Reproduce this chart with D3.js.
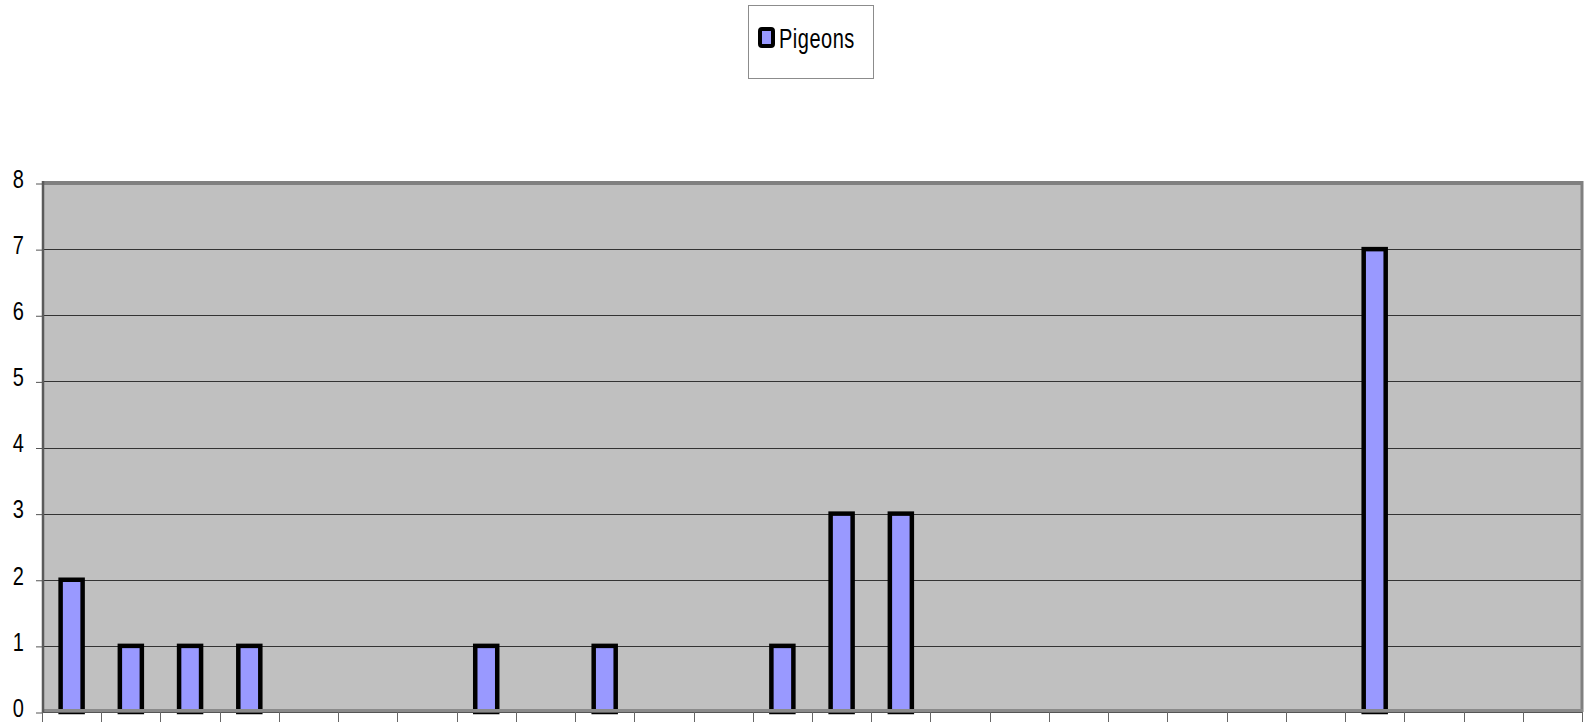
<!DOCTYPE html>
<html>
<head>
<meta charset="utf-8">
<script src="https://cdn.jsdelivr.net/npm/d3@7"></script>
<style>
  html, body { margin: 0; padding: 0; background: #ffffff; }
  svg { display: block; }
  text { font-family: "Liberation Sans", Arial, sans-serif; }
</style>
</head>
<body>
<svg id="chart" width="1590" height="722"></svg>
<script>
// ---- data ----
const categories = ["1","2","3","4","5","6","7","8","9","10","11","12","13",
                    "14","15","16","17","18","19","20","21","22","23","24","25","26"];
const pigeons = [2,1,1,1,0,0,0,1,0,1,0,0,1,3,3,0,0,0,0,0,0,0,7,0,0,0];
const seriesName = "Pigeons";
const yTicks = [0,1,2,3,4,5,6,7,8];

// ---- layout ----
const W = 1590, H = 722;
const plot = { left: 42, right: 1582, top: 183, bottom: 712 };

const svg = d3.select("#chart");

const x = d3.scaleBand()
  .domain(categories)
  .range([plot.left, plot.right])
  .paddingInner(0)
  .paddingOuter(0);

const y = d3.scaleLinear()
  .domain([0, 8])
  .range([plot.bottom, plot.top]);

// plot background
svg.append("rect")
  .attr("x", plot.left).attr("y", plot.top)
  .attr("width", plot.right - plot.left)
  .attr("height", plot.bottom - plot.top)
  .attr("fill", "#c0c0c0");

// horizontal gridlines
svg.append("g")
  .selectAll("line")
  .data(yTicks.filter(t => t > 0 && t < 8))
  .join("line")
  .attr("x1", plot.left).attr("x2", plot.right)
  .attr("y1", d => Math.round(y(d)) + 0.5)
  .attr("y2", d => Math.round(y(d)) + 0.5)
  .attr("stroke", "#333333")
  .attr("stroke-width", 1);

// bars
const barW = 22;
svg.append("g")
  .selectAll("rect")
  .data(categories.map((c, i) => ({ c, v: pigeons[i] })).filter(d => d.v > 0))
  .join("rect")
  .attr("x", d => x(d.c) + x.bandwidth() / 2 - barW / 2)
  .attr("y", d => y(d.v))
  .attr("width", barW)
  .attr("height", d => y(0) - y(d.v))
  .attr("fill", "#9999ff")
  .attr("stroke", "#000000")
  .attr("stroke-width", 4.5);

// plot frame
svg.append("line") // top
  .attr("x1", plot.left).attr("x2", plot.right + 1)
  .attr("y1", plot.top).attr("y2", plot.top)
  .attr("stroke", "#808080").attr("stroke-width", 4);
svg.append("line") // right
  .attr("x1", plot.right).attr("x2", plot.right)
  .attr("y1", plot.top - 2).attr("y2", plot.bottom)
  .attr("stroke", "#808080").attr("stroke-width", 3);
svg.append("line") // bottom (gray band)
  .attr("x1", plot.left).attr("x2", plot.right + 1)
  .attr("y1", plot.bottom - 1.5).attr("y2", plot.bottom - 1.5)
  .attr("stroke", "#8a8a8a").attr("stroke-width", 3);
svg.append("line") // bottom axis line
  .attr("x1", plot.left).attr("x2", plot.right + 1)
  .attr("y1", plot.bottom + 0.5).attr("y2", plot.bottom + 0.5)
  .attr("stroke", "#555555").attr("stroke-width", 1);
svg.append("line") // left axis line
  .attr("x1", plot.left + 1).attr("x2", plot.left + 1)
  .attr("y1", plot.top - 2).attr("y2", plot.bottom + 1)
  .attr("stroke", "#5a5a5a").attr("stroke-width", 2.5);

// y-axis ticks + labels (via d3 axis)
const yAxis = d3.axisLeft(y)
  .tickValues(yTicks)
  .tickSize(6)
  .tickFormat(d3.format("d"));
const gy = svg.append("g")
  .attr("transform", `translate(${plot.left},0)`)
  .call(yAxis);
gy.select(".domain").remove();
gy.selectAll(".tick line").attr("stroke", "#555555").attr("stroke-width", 1)
  .attr("transform", "translate(0,0.5)");
gy.selectAll(".tick text").remove();
gy.selectAll(".tick").append("text")
  .attr("transform", "translate(-18,4.3) scale(1,1.3)")
  .attr("text-anchor", "end")
  .attr("font-size", 20)
  .attr("fill", "#000000")
  .text(d => d3.format("d")(d));

// x-axis ticks at category boundaries
const xBounds = categories.map(c => x(c)).concat([plot.right]);
svg.append("g")
  .selectAll("line")
  .data(xBounds)
  .join("line")
  .attr("x1", d => Math.round(d) + 0.5).attr("x2", d => Math.round(d) + 0.5)
  .attr("y1", plot.bottom).attr("y2", H)
  .attr("stroke", "#666666").attr("stroke-width", 1);

// legend
const lg = svg.append("g");
lg.append("rect")
  .attr("x", 748.5).attr("y", 5.5)
  .attr("width", 125).attr("height", 73)
  .attr("fill", "#ffffff")
  .attr("stroke", "#8c8c8c").attr("stroke-width", 1);
lg.append("rect")
  .attr("x", 760).attr("y", 29)
  .attr("width", 13).attr("height", 17)
  .attr("rx", 2)
  .attr("fill", "#9999ff")
  .attr("stroke", "#000000").attr("stroke-width", 4);
lg.append("text")
  .attr("transform", "translate(779,48) scale(1,1.4)")
  .attr("font-size", 20)
  .attr("letter-spacing", 0.5)
  .attr("fill", "#000000")
  .text(seriesName);
</script>
</body>
</html>
